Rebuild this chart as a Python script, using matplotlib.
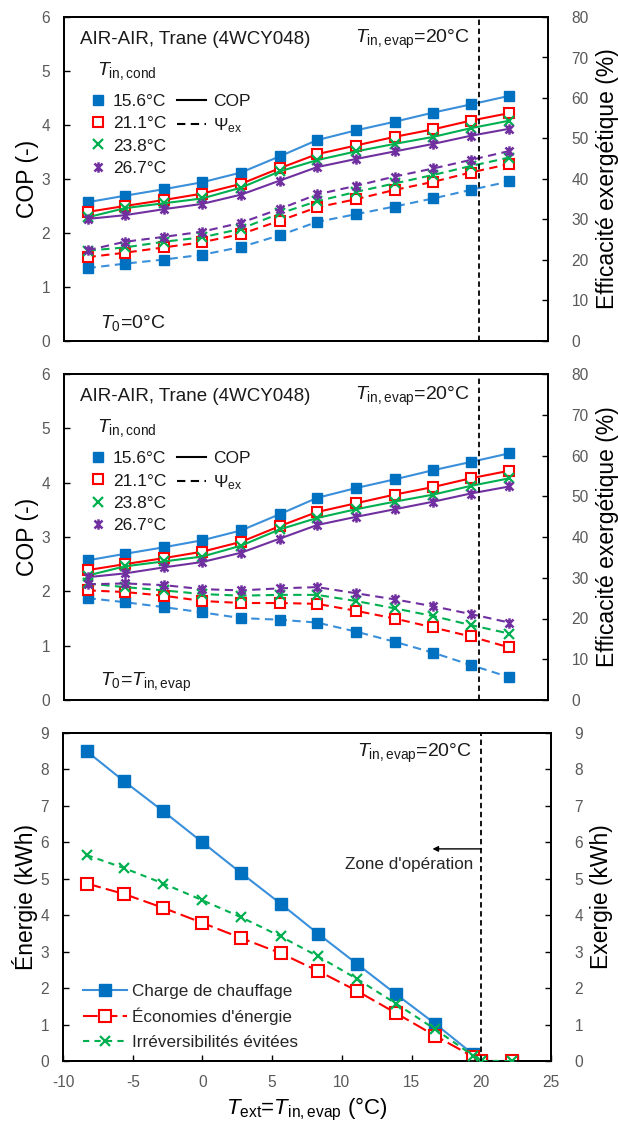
import matplotlib
matplotlib.use("Agg")
import matplotlib.pyplot as plt
from matplotlib.lines import Line2D
from matplotlib.path import Path

plt.rcParams['font.family'] = ['Liberation Sans', 'DejaVu Sans']
plt.rcParams['mathtext.fontset'] = 'custom'
plt.rcParams['mathtext.rm'] = 'Liberation Sans'
plt.rcParams['mathtext.it'] = 'Liberation Sans:italic'
plt.rcParams['mathtext.bf'] = 'Liberation Sans:bold'
plt.rcParams['axes.unicode_minus'] = False

# ---------------- data ----------------
x_temp = [-8.3, -5.6, -2.8, 0.0, 2.8, 5.6, 8.3, 11.1, 13.9, 16.7, 19.4, 22.2]
cond_labels = ['15.6°C', '21.1°C', '23.8°C', '26.7°C']

cop_156 = [2.57, 2.69, 2.81, 2.94, 3.12, 3.42, 3.72, 3.90, 4.06, 4.23, 4.38, 4.54]
cop_211 = [2.39, 2.50, 2.61, 2.73, 2.91, 3.20, 3.46, 3.62, 3.78, 3.92, 4.08, 4.22]
cop_238 = [2.29, 2.46, 2.55, 2.64, 2.84, 3.14, 3.35, 3.51, 3.65, 3.78, 3.94, 4.08]
cop_267 = [2.26, 2.33, 2.44, 2.54, 2.71, 2.97, 3.22, 3.37, 3.51, 3.65, 3.80, 3.93]

# exergy efficiency (%) with T0 = 0 °C
psi0_156 = [18.0, 19.1, 20.1, 21.3, 23.2, 26.1, 29.4, 31.3, 33.2, 35.2, 37.3, 39.4]
psi0_211 = [20.7, 21.8, 23.1, 24.4, 26.4, 29.7, 33.0, 35.0, 37.3, 39.3, 41.6, 43.7]
psi0_238 = [22.3, 23.1, 24.5, 25.6, 27.7, 31.5, 34.5, 36.8, 38.9, 41.0, 43.2, 45.3]
psi0_267 = [22.4, 24.5, 25.7, 27.0, 29.2, 32.6, 36.2, 38.3, 40.6, 42.6, 44.7, 46.9]

# exergy efficiency (%) with T0 = T_in,evap
psiT_156 = [25.0, 24.0, 22.8, 21.5, 20.1, 19.7, 19.0, 16.8, 14.3, 11.6, 8.6, 5.6]
psiT_211 = [26.9, 26.5, 25.6, 24.3, 23.8, 23.8, 23.6, 21.9, 20.0, 17.8, 15.6, 12.9]
psiT_238 = [28.6, 27.7, 26.9, 26.0, 25.6, 25.8, 25.8, 24.3, 22.5, 20.6, 18.4, 16.3]
psiT_267 = [28.4, 28.6, 28.2, 27.2, 26.9, 27.4, 27.7, 26.2, 24.7, 23.0, 21.1, 19.0]

# bottom panel
x_energy = [-8.3, -5.6, -2.8, 0.0, 2.8, 5.6, 8.3, 11.1, 13.9, 16.7, 19.4, 20.0, 22.2]
charge = [8.50, 7.67, 6.85, 6.00, 5.15, 4.32, 3.49, 2.66, 1.83, 1.02, 0.19, 0.0, 0.0]
savings = [4.87, 4.58, 4.20, 3.79, 3.37, 2.96, 2.47, 1.92, 1.31, 0.69, 0.12, 0.0, 0.0]
irrev = [5.65, 5.29, 4.87, 4.41, 3.94, 3.42, 2.87, 2.25, 1.57, 0.87, 0.15, 0.0, 0.0]
energy_labels = ['Charge de chauffage', "Économies d'énergie", 'Irréversibilités évitées']

# ---------------- styles ----------------
BLUE_M = '#0070C0'
BLUE_L = '#3A8FDA'
RED = '#FF0000'
GREEN = '#00B050'
PURPLE = '#7030A0'
TICKC = '#595959'
TXT = '#1a1a1a'
TICKFS = 11.2
LABFS = 16.5

star = Path([(-1, -1), (1, 1), (-1, 1), (1, -1), (0, -1.3), (0, 1.3)],
            [Path.MOVETO, Path.LINETO, Path.MOVETO, Path.LINETO, Path.MOVETO, Path.LINETO])

series_styles = [
    dict(color=BLUE_L, marker='s', mfc=BLUE_M, mec=BLUE_M, ms=7.5, mew=1.0),
    dict(color=RED, marker='s', mfc='white', mec=RED, ms=7.5, mew=1.5),
    dict(color=GREEN, marker='x', mfc=GREEN, mec=GREEN, ms=7, mew=1.6),
    dict(color=PURPLE, marker=star, mfc=PURPLE, mec=PURPLE, ms=7.5, mew=1.8),
]
DASH = (0, (4, 2.6))

fig = plt.figure(figsize=(6.18, 11.26), dpi=100)
W, H = 618.0, 1126.0
ax1 = fig.add_axes([64 / W, 1 - 341 / H, 484 / W, 324 / H])
ax2 = fig.add_axes([64 / W, 1 - 700 / H, 484 / W, 326 / H])
ax3 = fig.add_axes([63 / W, 1 - 1061 / H, 488 / W, 328 / H])


def style_axis(ax, right=False):
    for s in ax.spines.values():
        s.set_linewidth(1.3)
        s.set_color('black')
    ax.tick_params(axis='y', direction='in', length=4, width=1.0,
                   labelsize=TICKFS, labelcolor=TICKC, pad=10 if not right else 17,
                   left=not right, right=right, labelleft=not right, labelright=right)


def cop_panel(ax, psis, t0_text):
    axr = ax.twinx()
    cops = [cop_156, cop_211, cop_238, cop_267]
    for c, st in zip(cops, series_styles):
        ax.plot(x_temp, c, lw=1.5, ls='-', **st, zorder=3)
    for p, st in zip(psis, series_styles):
        axr.plot(x_temp, p, lw=1.5, ls=DASH, **st, zorder=3)
    ax.set_xlim(-10, 25)
    ax.set_ylim(0, 6)
    axr.set_ylim(0, 80)
    ax.set_yticks(range(0, 7))
    axr.set_yticks(range(0, 81, 10))
    ax.tick_params(axis='x', bottom=False, labelbottom=False)
    axr.tick_params(axis='x', bottom=False, labelbottom=False)
    style_axis(ax)
    style_axis(axr, right=True)
    ax.set_ylabel('COP (-)', fontsize=LABFS, labelpad=2)
    axr.set_ylabel('Efficacité exergétique (%)', fontsize=LABFS, labelpad=5)
    axr.axvline(20, color='black', lw=1.3, ls=(0, (3, 2)), zorder=4)

    axr.text(0.033, 0.932, 'AIR-AIR, Trane (4WCY048)', transform=ax.transAxes,
             fontsize=13.5, ha='left', va='center', color=TXT)
    axr.text(0.839, 0.932, r'$T_{\mathrm{in,evap}}$=20°C', transform=ax.transAxes,
             fontsize=14, ha='right', va='center', color=TXT)
    axr.text(0.074, 0.055, t0_text, transform=ax.transAxes,
             fontsize=14, ha='left', va='center', color=TXT)
    axr.text(0.068, 0.834, r'$T_{\mathrm{in,cond}}$', transform=ax.transAxes,
             fontsize=14, ha='left', va='center', color=TXT)

    h1 = [Line2D([], [], ls='none', **st) for st in series_styles]
    leg1 = axr.legend(h1, cond_labels, loc='upper left', bbox_to_anchor=(0.052, 0.764),
                      frameon=False, fontsize=12.5, handlelength=1.0, handletextpad=0.36,
                      labelspacing=0.42, borderpad=0.0, borderaxespad=0.0)
    for t in leg1.get_texts():
        t.set_color(TXT)
    axr.add_artist(leg1)
    h2 = [Line2D([], [], color='black', lw=1.5, ls='-'),
          Line2D([], [], color='black', lw=1.5, ls=DASH)]
    leg2 = axr.legend(h2, ['COP', r'Ψ$_{\mathrm{ex}}$'], loc='upper left',
                      bbox_to_anchor=(0.2335, 0.764), frameon=False, fontsize=12.5,
                      handlelength=1.67, handletextpad=0.4, labelspacing=0.42,
                      borderpad=0.0, borderaxespad=0.0)
    for t in leg2.get_texts():
        t.set_color(TXT)
    return axr


cop_panel(ax1, [psi0_156, psi0_211, psi0_238, psi0_267], r'$T_0$=0°C')
cop_panel(ax2, [psiT_156, psiT_211, psiT_238, psiT_267], r'$T_0$=$T_{\mathrm{in,evap}}$')

# ---------------- bottom panel ----------------
ax3r = ax3.twinx()
l1, = ax3.plot(x_energy, charge, color=BLUE_L, lw=1.5, ls='-', marker='s',
               mfc=BLUE_M, mec=BLUE_M, ms=8, zorder=3)
l2, = ax3.plot(x_energy, savings, color=RED, lw=1.5, ls=(0, (7, 2.5)), marker='s',
               mfc='white', mec=RED, mew=1.5, ms=8, zorder=4)
l3, = ax3r.plot(x_energy, irrev, color=GREEN, lw=1.5, ls=(0, (3, 2.5)), marker='x',
                mfc=GREEN, mec=GREEN, mew=1.6, ms=7, zorder=5)
ax3.set_xlim(-10, 25)
ax3.set_ylim(0, 9)
ax3r.set_ylim(0, 9)
ax3.set_yticks(range(0, 10))
ax3r.set_yticks(range(0, 10))
ax3.set_xticks(range(-10, 26, 5))
style_axis(ax3)
style_axis(ax3r, right=True)
ax3.tick_params(axis='x', direction='in', length=4, width=1.0, labelsize=TICKFS,
                labelcolor=TICKC, pad=10, top=False)
ax3.set_ylabel('Énergie (kWh)', fontsize=LABFS, labelpad=2)
ax3r.set_ylabel('Exergie (kWh)', fontsize=LABFS, labelpad=5)
ax3.set_xlabel(r'$T_{\mathrm{ext}}$=$T_{\mathrm{in,evap}}$ (°C)', fontsize=16, labelpad=4)
ax3r.axvline(20, color='black', lw=1.3, ls=(0, (3, 2)), zorder=6)
ax3r.text(0.838, 0.939, r'$T_{\mathrm{in,evap}}$=20°C', transform=ax3.transAxes,
          fontsize=14, ha='right', va='center', color=TXT)
ax3r.text(0.840, 0.598, "Zone d'opération", transform=ax3.transAxes,
          fontsize=12.3, ha='right', va='center', color='#262626')
ax3r.annotate('', xy=(16.5, 5.82), xytext=(20, 5.82), xycoords='data',
              arrowprops=dict(arrowstyle='-|>', color='black', lw=1.0,
                              mutation_scale=8, shrinkA=0, shrinkB=0))
leg3 = ax3r.legend([l1, l2, l3], energy_labels, loc='lower left',
                   bbox_to_anchor=(0.041, 0.034), frameon=False, fontsize=12.3,
                   handlelength=2.58, handletextpad=0.3, labelspacing=0.55,
                   borderpad=0.0, borderaxespad=0.0)
for t in leg3.get_texts():
    t.set_color('#262626')

fig.savefig('out.png', dpi=100)
